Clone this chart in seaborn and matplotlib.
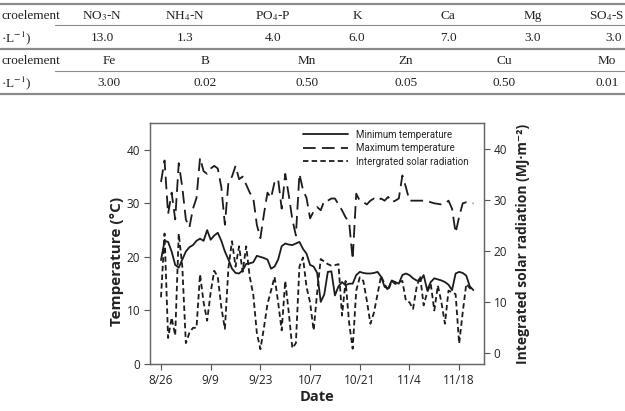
import matplotlib as mpl

mpl.use('Agg')
import matplotlib.pyplot as plt
from matplotlib.lines import Line2D
import numpy as np
import pandas as pd
import seaborn as sns

sns.set_style('ticks')
plt.rcParams['font.family'] = ['Open Sans', 'DejaVu Sans']
plt.rcParams['mathtext.fontset'] = 'stix'

#### data ####
# nutrient solution table (top of the page, cut at both sides)
macro_names = ['NO$_3$-N', 'NH$_4$-N', 'PO$_4$-P', 'K', 'Ca', 'Mg', 'SO$_4$-S']
macro_values = ['13.0', '1.3', '4.0', '6.0', '7.0', '3.0', '3.0']
micro_names = ['Fe', 'B', 'Mn', 'Zn', 'Cu', 'Mo']
micro_values = ['3.00', '0.02', '0.50', '0.05', '0.50', '0.01']
row_labels = ['croelement', 'croelement']
unit_label = '·L$^{-1}$)'

# daily weather, starting 8/26
start_date = '2019-08-26'
min_temp = [19.4, 23.0, 22.8, 21.0, 18.5, 18.0, 19.5, 21.0, 21.8, 22.2,
            23.0, 23.4, 23.0, 25.0, 23.2, 24.0, 24.5, 23.0, 21.0, 19.5,
            17.8, 17.0, 16.9, 17.5, 18.7, 18.8, 19.0, 20.2, 20.0, 19.8,
            19.5, 17.8, 18.2, 19.5, 22.0, 22.5, 22.3, 22.2, 22.5, 22.8,
            21.5, 20.6, 18.5, 18.2, 17.0, 11.6, 13.0, 17.2, 17.3, 12.8,
            14.5, 15.3, 14.7, 15.0, 15.0, 16.6, 17.2, 17.0, 16.9, 16.9,
            17.0, 17.2, 16.3, 14.4, 14.1, 15.6, 15.3, 15.0, 16.6, 16.9,
            16.6, 16.0, 15.6, 15.5, 16.6, 13.8, 15.3, 16.0, 15.8, 15.6,
            15.3, 14.8, 13.8, 16.9, 17.2, 17.0, 16.5, 14.5, 13.8]
max_temp = [34.0, 38.0, 28.0, 32.0, 27.0, 37.5, 33.0, 27.0, 25.5, 29.0,
            31.0, 38.5, 36.0, 35.5, 36.5, 37.0, 36.5, 33.0, 26.0, 34.0,
            35.0, 37.0, 34.5, 35.0, 33.5, 32.0, 31.0, 26.0, 23.5, 28.0,
            32.0, 31.0, 34.0, 34.5, 29.0, 35.5, 31.5, 27.0, 24.0, 35.5,
            32.5, 31.0, 27.2, 28.5, 29.3, 28.7, 30.5, 30.5, 30.9, 30.9,
            29.8, 28.7, 27.4, 26.5, 19.5, 31.8, 30.5, 30.2, 29.8, 30.5,
            30.9, 30.5, 30.9, 30.5, 31.2, 30.2, 30.5, 30.9, 35.2, 33.0,
            30.5, 30.5, 30.5, 30.5, 30.5, 30.5, 30.2, 30.0, 29.9, 29.8,
            29.9, 30.5, 29.0, 24.5, 27.5, 30.0, 30.2, 30.0, 30.0]
solar_rad = [11.0, 23.5, 3.0, 7.0, 3.5, 23.5, 17.0, 2.0, 4.0, 5.0,
             5.0, 15.5, 10.0, 6.4, 12.0, 16.2, 15.0, 9.0, 4.8, 16.8,
             22.0, 17.0, 21.0, 16.0, 21.0, 15.0, 11.5, 4.0, 0.8, 5.0,
             9.7, 12.3, 15.0, 10.0, 4.5, 14.2, 8.0, 1.0, 2.0, 17.0,
             18.8, 13.0, 10.0, 4.5, 12.0, 18.5, 18.0, 17.5, 17.2, 17.3,
             17.5, 7.4, 14.2, 6.0, 0.9, 12.3, 14.9, 14.2, 10.3, 5.8,
             8.0, 11.6, 15.2, 13.6, 12.3, 14.2, 13.6, 14.0, 14.2, 10.3,
             10.0, 8.7, 12.9, 15.2, 9.4, 12.0, 13.6, 8.4, 13.3, 10.0,
             5.8, 12.3, 12.0, 11.6, 1.9, 8.0, 13.6, 12.8, 12.3]
tick_labels = ['8/26', '9/9', '9/23', '10/7', '10/21', '11/4', '11/18']
series_names = ['Minimum temperature', 'Maximum temperature',
                'Intergrated solar radiation']

W, H = 625, 411
LINE_C = '#1c1c1c'
TXT_C = '#222222'


def fx(x):
    return x / W


def fy(y):
    return 1 - y / H


def hline(fig, x0, x1, y, lw, color):
    fig.add_artist(Line2D([fx(x0), fx(x1)], [fy(y), fy(y)],
                          lw=lw, color=color))


def cell(fig, x, y, s, ha='center'):
    fig.text(fx(x), fy(y), s, ha=ha, va='center', family=serif,
             fontsize=9.5, color=TXT_C)


fig = plt.figure(figsize=(W / 100, H / 100), dpi=100)

#### table ####
serif = ['Liberation Serif', 'DejaVu Serif']
hline(fig, 0, W, 4, 1.6, '#8a8a8a')
hline(fig, 55, W, 25, 0.8, '#8a8a8a')
hline(fig, 0, W, 49, 1.6, '#8a8a8a')
hline(fig, 55, W, 71, 0.8, '#8a8a8a')
hline(fig, 0, W, 94, 1.6, '#8a8a8a')

macro_x = [102, 185, 273, 357, 448, 533, 606]
micro_x = [109, 205, 307, 406, 504, 607]
for i, (x, name, val) in enumerate(zip(macro_x, macro_names, macro_values)):
    last = i == len(macro_names) - 1
    cell(fig, 624 if last else x, 16, name, ha='right' if last else 'center')
    cell(fig, 614 if last else x, 38, val)
for x, name, val in zip(micro_x, micro_names, micro_values):
    cell(fig, x, 61, name)
    cell(fig, x, 83, val)
for y, label in zip([16, 61], row_labels):
    cell(fig, 1, y, label, ha='left')
for y in [38, 83]:
    cell(fig, 1, y, unit_label, ha='left')

#### chart ####
dates = pd.date_range(start_date, periods=len(min_temp), freq='D')
df = pd.DataFrame({'date': dates, 'tmin': min_temp, 'tmax': max_temp,
                   'solar': solar_rad})

ax = fig.add_axes([fx(150), fy(364), (484 - 150) / W, (364 - 123) / H])
ax2 = ax.twinx()

sns.lineplot(data=df, x='date', y='tmin', ax=ax, color=LINE_C, lw=1.3,
             label=series_names[0])
sns.lineplot(data=df, x='date', y='tmax', ax=ax, color=LINE_C, lw=1.3,
             linestyle=(0, (7, 3.5)), label=series_names[1])
sns.lineplot(data=df, x='date', y='solar', ax=ax2, color=LINE_C, lw=1.3,
             linestyle=(0, (3, 1.8)), label=series_names[2])

t0 = pd.Timestamp(start_date)
ax.set_xlim(t0 - pd.Timedelta(days=3.1), t0 + pd.Timedelta(days=91))
ax.set_ylim(0, 45)
ax2.set_ylim(-2.1, 45.2)
ax.set_yticks([0, 10, 20, 30, 40])
ax2.set_yticks([0, 10, 20, 30, 40])
tick_dates = pd.date_range(start_date, periods=len(tick_labels), freq='14D')
ax.set_xticks(tick_dates)
ax.set_xticklabels(tick_labels)

for a in (ax, ax2):
    a.tick_params(direction='out', length=4, width=0.8, color='#555555',
                  labelsize=8.5, labelcolor=TXT_C, pad=3)
    for sp in a.spines.values():
        sp.set_color('#666666')
        sp.set_linewidth(0.9)

ax.set_xlabel('Date', fontsize=10.5, fontweight='bold', color=TXT_C)
ax.set_ylabel('Temperature (°C)', fontsize=11, fontweight='bold',
              color=TXT_C)
ax2.set_ylabel('Integrated solar radiation (MJ·m⁻²)', fontsize=10,
               fontweight='bold', color=TXT_C)
ax.xaxis.set_label_coords(0.5, -0.108)
ax.yaxis.set_label_coords(-0.078, 0.425)
ax2.yaxis.set_label_coords(1.096, 0.5)

# one legend for both axes
h1, l1 = ax.get_legend_handles_labels()
h2, l2 = ax2.get_legend_handles_labels()
ax.get_legend().remove()
ax2.get_legend().remove()
ax2.legend(h1 + h2, l1 + l2, loc='upper right', bbox_to_anchor=(0.975, 1.0),
           frameon=False, prop={'family': ['Roboto', 'DejaVu Sans'], 'size': 7},
           handlelength=4.6, handletextpad=0.9, labelspacing=0.35,
           borderaxespad=0.3)

plt.savefig('out.png', dpi=100)
